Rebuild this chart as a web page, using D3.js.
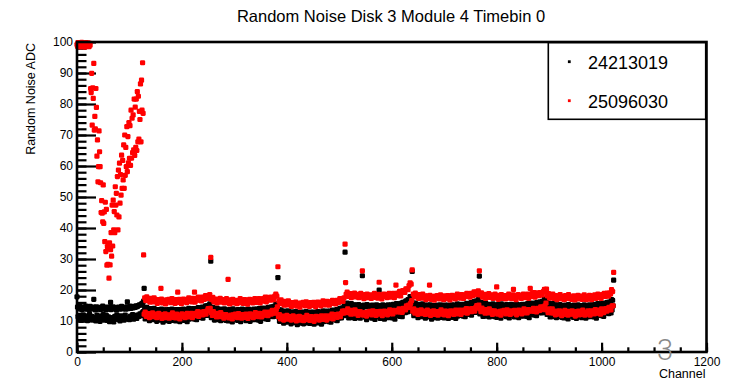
<!DOCTYPE html>
<html>
<head>
<meta charset="utf-8">
<script src="https://cdn.jsdelivr.net/npm/d3@7"></script>
<style>
  body { margin: 0; background: #fff; }
  text { font-family: "Liberation Sans", Arial, Helvetica, sans-serif; }
</style>
</head>
<body>
<svg id="chart" width="749" height="381"></svg>
<script>
const title = "Random Noise Disk 3 Module 4 Timebin 0";
const seriesNames = ["24213019", "25096030"];
const seriesColors = ["#000000", "#ff0000"];
const xTicks = [0, 200, 400, 600, 800, 1000, 1200];
const yTicks = [0, 10, 20, 30, 40, 50, 60, 70, 80, 90, 100];

// noise per channel, even and odd channels kept apart (channel = 2*i or 2*i+1)
// one row = 16 values, four rows = one chip of 128 channels
const blackEven = [
  17.8,11.4,10.6,11.8,10.2,11.1,12.0,10.5,10.9,11.7,10.1,11.3,12.2,10.7,11.5,10.4,
  17.0,11.2,10.0,11.9,10.8,11.4,9.9,11.6,10.6,12.1,10.3,11.0,11.8,10.2,11.3,9.8,
  16.0,10.4,11.1,9.7,11.5,10.8,12.0,10.5,11.2,10.0,11.7,10.9,11.4,10.3,11.9,10.7,
  16.2,11.0,10.4,11.6,10.9,12.1,10.6,11.3,11.8,10.8,11.9,11.5,12.3,11.7,12.6,13.0,
  20.5,10.7,11.6,12.3,10.8,10.1,11.8,11.2,10.4,11.9,10.8,11.3,9.9,10.9,11.4,10.3,
  11.6,10.5,9.6,11.1,11.9,10.1,11.0,10.7,9.9,11.4,11.2,10.2,11.8,10.6,10.0,10.9,
  10.3,11.5,9.8,11.1,10.7,11.7,10.2,11.4,11.1,9.8,11.6,10.6,11.0,11.9,10.8,12.3,
  10.6,11.3,10.4,11.7,12.1,11.2,12.5,11.1,10.9,12.1,11.8,12.6,11.8,13.4,13.0,12.5,
  11.1,12.3,11.2,10.3,11.6,12.3,10.4,11.0,11.6,10.1,11.2,10.5,11.9,10.9,10.2,11.3,
  10.0,11.1,12.0,10.5,9.7,11.5,10.6,10.9,11.7,10.2,10.4,11.4,9.8,11.0,11.6,10.7,
  11.3,10.1,11.8,10.5,10.9,9.9,11.6,10.4,10.7,12.0,10.4,11.4,11.0,10.3,11.4,9.9,
  11.8,11.1,12.2,10.9,10.7,11.6,10.5,12.1,12.5,11.5,12.0,11.4,12.6,11.6,12.6,13.9,
  11.3,9.9,10.8,11.5,10.0,9.3,11.0,10.4,9.6,11.1,10.0,10.5,9.1,10.1,10.6,9.5,
  10.8,9.7,8.8,10.3,11.1,9.3,10.2,9.9,9.1,10.6,10.4,9.4,11.0,9.8,9.2,10.1,
  9.5,10.7,9.0,10.3,9.9,10.9,9.4,10.6,10.3,9.0,10.8,9.8,10.2,11.1,10.0,11.5,
  9.8,10.5,9.6,10.9,11.3,10.4,11.7,10.3,10.1,11.3,11.0,11.8,11.0,12.6,12.2,11.7,
  11.8,13.0,11.9,11.0,12.3,13.0,11.1,11.7,12.3,10.8,11.9,11.2,12.6,11.6,10.9,12.0,
  24.6,11.8,12.7,11.2,10.4,12.2,11.3,11.6,12.4,10.9,11.1,12.1,10.5,11.7,12.3,11.4,
  20.0,10.8,12.5,11.2,11.6,10.6,12.3,11.1,11.4,12.7,11.1,12.1,11.7,11.0,12.1,10.6,
  12.5,11.8,12.9,11.7,11.5,12.5,11.4,13.1,13.6,12.7,13.3,12.9,14.2,13.3,14.4,15.7,
  13.1,11.7,12.6,13.3,11.8,11.1,12.8,12.2,11.4,12.9,11.8,12.3,10.9,11.9,12.4,11.3,
  12.6,11.5,10.6,12.1,12.9,11.1,12.0,11.7,10.9,12.4,12.2,11.2,12.8,11.6,11.0,11.9,
  11.3,12.5,10.8,12.1,11.7,12.7,11.2,12.4,12.1,10.8,12.6,11.6,12.0,12.9,11.8,13.3,
  11.6,12.3,11.4,12.7,13.1,12.2,13.5,12.1,11.9,13.1,12.8,13.6,12.8,14.4,14.0,13.5,
  12.3,13.5,12.4,11.5,12.8,13.5,11.6,12.2,12.8,11.3,12.4,11.7,13.1,12.1,11.4,12.5,
  11.2,12.3,13.2,11.7,10.9,12.7,11.8,12.1,12.9,11.4,11.6,12.6,11.0,12.2,12.8,11.9,
  12.5,11.3,13.0,11.7,12.1,11.1,12.8,11.6,11.9,13.2,11.6,12.6,12.2,11.5,12.6,11.1,
  13.0,12.3,13.4,12.1,11.9,12.8,11.7,13.3,13.7,12.7,13.2,12.6,13.8,12.8,13.8,15.1,
  12.1,13.3,12.2,11.3,12.6,13.3,11.4,12.0,12.6,11.1,12.2,11.5,12.9,11.9,11.2,12.3,
  11.0,12.1,13.0,11.5,10.7,12.5,11.6,11.9,12.7,11.2,11.4,12.4,10.8,12.0,12.6,11.7,
  12.3,11.1,12.8,11.5,11.9,10.9,12.6,11.4,11.7,13.0,11.4,12.4,12.0,11.3,12.4,10.9,
  12.8,12.1,13.2,11.9,11.7,12.6,11.5,13.1,13.5,12.5,13.0,12.4,13.6,12.6,13.6,14.9
];
const blackOdd = [
  14.5,13.9,14.7,14.1,13.7,14.6,14.3,13.8,14.8,14.0,14.4,13.6,14.7,14.2,13.9,14.5,
  14.0,13.6,14.6,14.1,13.8,14.4,13.7,14.3,14.8,13.9,14.2,13.6,14.5,14.0,13.8,14.4,
  13.7,14.1,14.6,13.9,14.3,13.6,14.0,14.5,13.8,14.2,14.7,13.9,14.1,14.4,13.8,14.6,
  14.0,14.3,14.8,14.1,14.5,14.2,14.7,14.4,14.9,14.6,15.0,15.2,15.1,15.5,15.8,16.4,
  14.4,13.8,14.4,13.8,13.8,13.4,14.0,13.7,13.4,14.1,13.5,13.7,13.1,13.6,13.7,13.2,
  13.8,13.1,13.5,13.6,12.9,13.6,13.3,13.7,13.4,13.1,13.8,13.3,13.5,13.0,13.7,13.2,
  13.2,13.7,13.5,13.0,13.6,13.8,13.4,13.7,13.2,13.5,14.1,13.4,13.7,13.4,14.0,13.8,
  13.4,14.0,13.8,14.3,13.8,14.1,13.8,14.5,14.3,14.2,14.9,14.5,15.0,14.7,15.5,29.3,
  14.0,14.4,13.6,14.0,13.8,14.2,13.4,13.7,13.8,13.1,13.7,13.3,13.9,13.4,13.1,13.6,
  13.0,13.7,13.3,13.2,13.9,13.2,13.5,13.1,13.4,13.7,13.0,13.5,13.3,13.8,13.1,13.6,
  13.6,13.1,13.3,13.8,13.2,13.0,13.6,13.3,13.8,13.5,13.1,13.8,13.5,14.0,13.4,13.6,
  14.2,13.6,14.0,13.5,14.2,13.9,14.4,13.9,14.3,14.6,14.1,14.7,14.6,15.5,15.3,24.0,
  13.6,13.0,13.6,13.0,13.0,12.6,13.2,12.9,12.6,13.3,12.7,12.9,12.3,12.8,12.9,12.4,
  13.0,12.3,12.7,12.8,12.1,12.8,12.5,12.9,12.6,12.3,13.0,12.5,12.7,12.2,12.9,12.4,
  12.4,12.9,12.7,12.2,12.8,13.0,12.6,12.9,12.4,12.7,13.3,12.6,12.9,12.6,13.2,13.0,
  12.6,13.2,13.0,13.5,13.0,13.3,13.0,13.7,13.5,13.4,14.1,13.7,14.2,13.9,14.7,32.2,
  15.4,15.8,15.0,15.4,15.2,15.6,14.8,15.1,15.2,14.5,15.1,14.7,15.3,14.8,14.5,15.0,
  14.4,15.1,14.7,14.6,15.3,14.6,14.9,14.5,14.8,15.1,14.4,14.9,14.7,15.2,14.5,15.0,
  15.0,14.5,14.7,15.2,14.6,14.4,15.0,14.7,15.2,14.9,14.5,15.2,14.9,15.4,14.8,15.0,
  15.6,15.0,15.4,15.0,15.7,15.5,16.0,15.6,16.1,16.5,16.1,16.9,16.9,17.9,17.8,26.0,
  15.8,15.2,15.8,15.2,15.2,14.8,15.4,15.1,14.8,15.5,14.9,15.1,14.5,15.0,15.1,14.6,
  15.2,14.5,14.9,15.0,14.3,15.0,14.7,15.1,14.8,14.5,15.2,14.7,14.9,14.4,15.1,14.6,
  14.6,15.1,14.9,14.4,15.0,15.2,14.8,15.1,14.6,14.9,15.5,14.8,15.1,14.8,15.4,15.2,
  14.8,15.4,15.2,15.7,15.2,15.5,15.2,15.9,15.7,15.6,16.3,15.9,16.4,16.1,16.9,24.5,
  15.6,16.0,15.2,15.6,15.4,15.8,15.0,15.3,15.4,14.7,15.3,14.9,15.5,15.0,14.7,15.2,
  14.6,15.3,14.9,14.8,15.5,14.8,15.1,14.7,15.0,15.3,14.6,15.1,14.9,15.4,14.7,15.2,
  15.2,14.7,14.9,15.4,14.8,14.6,15.2,14.9,15.4,15.1,14.7,15.4,15.1,15.6,15.0,15.2,
  15.8,15.2,15.6,15.1,15.8,15.5,16.0,15.5,15.9,16.2,15.7,16.3,16.2,17.1,16.9,17.1,
  15.4,15.8,15.0,15.4,15.2,15.6,14.8,15.1,15.2,14.5,15.1,14.7,15.3,14.8,14.5,15.0,
  14.4,15.1,14.7,14.6,15.3,14.6,14.9,14.5,14.8,15.1,14.4,14.9,14.7,15.2,14.5,15.0,
  15.0,14.5,14.7,15.2,14.6,14.4,15.0,14.7,15.2,14.9,14.5,15.2,14.9,15.4,14.8,15.0,
  15.6,15.0,15.4,14.9,15.6,15.3,15.8,15.3,15.7,16.0,15.5,16.1,16.0,16.9,16.7,23.2
];
const redEven = [
  99.2,99.8,99.5,99.7,98.7,98.5,99.6,99.4,99.0,98.6,98.9,99.2,99.6,85.0,89.9,85.2,
  93.1,76.0,85.0,63.2,54.9,71.3,59.8,45.0,44.8,53.9,45.2,48.3,46.0,34.0,33.5,35.2,
  33.0,30.9,34.2,39.4,38.5,47.4,44.2,39.4,43.6,48.0,50.6,52.8,55.5,52.8,57.0,59.8,
  58.2,61.0,62.5,60.2,62.5,64.3,65.2,63.4,66.0,65.0,67.8,68.7,75.0,67.8,78.0,77.0,
  12.2,12.9,11.5,12.2,12.4,11.1,12.2,11.8,12.6,11.4,11.8,12.2,11.1,11.9,12.5,11.3,
  20.5,10.8,12.1,11.4,12.3,11.1,11.6,12.0,10.9,11.9,11.5,12.6,11.2,11.8,11.0,12.2,
  19.3,11.3,10.7,11.8,12.3,11.5,12.1,11.1,11.8,12.5,11.3,11.8,11.5,12.5,11.1,12.2,
  19.3,12.5,11.7,13.0,11.5,12.4,12.9,12.2,12.0,13.0,12.7,12.2,13.3,14.0,13.3,14.1,
  12.7,11.8,13.0,11.9,12.1,11.3,12.5,11.9,11.4,12.7,11.7,12.1,10.9,11.9,12.1,11.3,
  23.4,11.0,11.7,11.9,10.7,12.0,11.4,12.2,11.6,11.1,12.4,11.5,11.8,10.9,12.1,11.3,
  11.2,12.2,11.7,10.8,11.9,12.3,11.5,12.1,11.1,11.7,12.7,11.5,12.0,11.4,12.5,12.0,
  11.3,12.4,12.0,12.9,11.9,12.4,11.7,12.9,12.5,12.2,13.4,12.6,13.3,12.5,13.7,14.6,
  11.4,12.1,10.7,11.4,11.6,10.3,11.4,11.0,11.8,10.6,11.0,11.4,10.3,11.1,11.7,10.5,
  10.9,10.0,11.3,10.6,11.5,10.3,10.8,11.2,10.1,11.1,10.7,11.8,10.4,11.0,10.2,11.4,
  11.3,10.5,9.9,11.0,11.5,10.7,11.3,10.3,11.0,11.7,10.5,11.0,10.7,11.7,10.3,11.4,
  11.1,11.7,10.9,12.2,10.7,11.6,12.1,11.4,11.2,12.2,11.9,11.4,12.5,13.2,12.5,13.3,
  22.4,12.7,13.9,12.8,13.0,12.2,13.4,12.8,12.3,13.6,12.6,13.0,11.8,12.8,13.0,12.2,
  26.2,11.9,12.6,12.8,11.6,12.9,12.3,13.1,12.5,12.0,13.3,12.4,12.7,11.8,13.0,12.2,
  22.5,13.1,12.6,11.7,12.8,13.2,12.4,13.0,12.0,12.6,13.6,12.4,12.9,12.3,13.4,12.9,
  21.6,13.3,12.9,13.9,12.9,13.5,12.8,14.1,13.8,13.6,14.9,14.3,15.1,14.4,15.7,16.6,
  13.2,13.9,12.5,13.2,13.4,12.1,13.2,12.8,13.6,12.4,12.8,13.2,12.1,12.9,13.5,12.3,
  21.6,11.8,13.1,12.4,13.3,12.1,12.6,13.0,11.9,12.9,12.5,13.6,12.2,12.8,12.0,13.2,
  13.1,12.3,11.7,12.8,13.3,12.5,13.1,12.1,12.8,13.5,12.3,12.8,12.5,13.5,12.1,13.2,
  12.9,13.5,12.7,14.0,12.5,13.4,13.9,13.2,13.0,14.0,13.7,13.2,14.3,15.0,14.3,15.1,
  13.9,13.0,14.2,13.1,13.3,12.5,13.7,13.1,12.6,13.9,12.9,13.3,12.1,13.1,13.3,12.5,
  21.0,12.2,12.9,13.1,11.9,13.2,12.6,13.4,12.8,12.3,13.6,12.7,13.0,12.1,13.3,12.5,
  20.2,13.4,12.9,12.0,13.1,13.5,12.7,13.3,12.3,12.9,13.9,12.7,13.2,12.6,13.7,13.2,
  20.5,13.6,13.2,14.1,13.1,13.6,12.9,14.1,13.7,13.4,14.6,13.8,14.5,13.7,14.9,15.8,
  13.6,12.7,13.9,13.0,12.6,13.9,12.6,13.0,12.0,13.2,12.8,12.2,13.3,12.5,11.7,12.9,
  12.5,13.4,12.1,12.8,11.9,13.1,12.6,12.2,13.3,12.3,12.7,11.6,13.0,12.4,13.2,12.0,
  12.1,12.9,13.5,12.4,11.9,12.7,12.3,13.3,12.6,11.9,13.3,12.8,13.1,12.3,13.7,12.6,
  13.1,12.5,13.5,12.2,13.9,13.0,12.7,13.6,14.0,13.2,13.7,14.4,13.7,13.6,14.9,14.9
];
const redOdd = [
  98.6,98.9,98.4,99.1,99.9,99.3,98.8,98.3,99.8,99.5,99.7,98.5,99.0,83.7,73.2,81.8,
  71.6,72.0,78.9,68.4,59.8,64.6,54.6,48.8,42.0,41.5,35.6,32.4,28.0,28.3,23.8,28.1,
  38.5,47.4,49.0,45.3,53.3,51.2,56.6,58.7,60.9,57.2,63.5,61.8,66.8,70.0,66.0,72.7,
  69.5,74.0,73.0,78.0,75.4,76.5,81.6,79.0,81.6,84.0,82.5,77.6,86.5,87.7,93.3,31.3,
  17.5,16.6,17.8,16.7,16.9,16.1,17.3,16.7,16.2,17.5,16.5,16.9,15.7,16.7,16.9,16.1,
  17.1,15.8,16.5,16.7,15.5,16.8,16.2,17.0,16.4,15.9,17.2,16.3,16.6,15.7,16.9,16.1,
  16.0,17.0,16.5,15.6,16.7,17.1,16.3,16.9,15.9,16.5,17.5,16.3,16.8,16.2,17.3,16.8,
  16.1,17.2,16.8,17.7,16.7,17.2,16.5,17.7,17.3,17.0,18.2,17.4,18.1,17.3,18.5,30.5,
  16.9,17.6,16.2,16.9,17.1,15.8,16.9,16.5,17.3,16.1,16.5,16.9,15.8,16.6,17.2,16.0,
  16.4,15.5,16.8,16.1,17.0,15.8,16.3,16.7,15.6,16.6,16.2,17.2,15.9,16.5,15.7,16.9,
  16.8,16.0,15.4,16.5,17.0,16.2,16.8,15.8,16.5,17.2,16.0,16.5,16.2,17.2,15.8,16.9,
  16.6,17.2,16.4,17.7,16.2,17.1,17.6,16.9,16.7,17.7,17.4,16.9,18.0,18.7,18.0,27.5,
  16.5,15.6,16.8,15.7,15.9,15.1,16.3,15.7,15.2,16.5,15.5,15.9,14.7,15.7,15.9,15.1,
  16.1,14.8,15.5,15.7,14.5,15.8,15.2,16.0,15.4,14.9,16.2,15.3,15.6,14.7,15.9,15.1,
  15.0,16.0,15.5,14.6,15.7,16.1,15.3,15.9,14.9,15.5,16.5,15.3,15.8,15.2,16.3,15.8,
  15.1,16.2,15.8,16.7,15.7,16.2,15.5,16.7,16.3,16.0,17.2,16.4,17.1,16.3,17.5,34.8,
  18.6,19.3,17.9,18.6,18.8,17.5,18.6,18.2,19.0,17.8,18.2,18.6,17.5,18.3,18.9,17.7,
  18.1,17.2,18.5,17.8,18.7,17.5,18.0,18.4,17.3,18.3,17.9,18.9,17.6,18.2,17.4,18.6,
  18.5,17.7,17.1,18.2,18.7,17.9,18.5,17.5,18.2,18.9,17.7,18.2,17.9,18.9,17.5,18.6,
  18.3,19.0,18.2,19.6,18.1,19.2,19.8,19.2,19.2,20.4,20.3,20.1,21.4,22.3,21.9,26.5,
  18.7,17.8,19.0,17.9,18.1,17.3,18.5,17.9,17.4,18.7,17.7,18.1,16.9,17.9,18.1,17.3,
  18.3,17.0,17.7,17.9,16.7,18.0,17.4,18.2,17.6,17.1,18.4,17.5,17.8,16.9,18.1,17.3,
  17.2,18.2,17.7,16.8,17.9,18.3,17.5,18.1,17.1,17.7,18.7,17.5,18.0,17.4,18.5,18.0,
  17.3,18.4,18.0,18.9,17.9,18.4,17.7,18.9,18.5,18.2,19.4,18.6,19.3,18.5,19.7,26.2,
  18.4,19.1,17.7,18.4,18.6,17.3,18.4,18.0,18.8,17.6,18.0,18.4,17.3,18.1,18.7,17.5,
  17.9,17.0,18.3,17.6,18.5,17.3,17.8,18.2,17.1,18.1,17.7,18.7,17.4,18.0,17.2,18.4,
  18.3,17.5,16.9,18.0,18.5,17.7,18.3,17.3,18.0,18.7,17.5,18.0,17.7,18.7,17.3,18.4,
  18.1,18.8,17.9,19.2,17.7,18.6,19.1,18.4,18.2,19.2,18.9,18.4,19.5,20.2,19.5,20.3,
  18.1,18.8,17.4,18.3,17.9,18.7,17.3,17.9,18.2,16.9,17.9,17.3,18.5,17.5,17.1,17.9,
  16.9,18.2,17.5,17.3,18.5,17.2,17.8,17.0,17.6,18.1,16.8,17.7,17.4,18.3,17.1,17.9,
  18.0,17.0,17.5,18.4,17.3,16.9,17.9,17.3,18.3,17.7,16.9,18.1,17.6,18.4,17.3,17.8,
  18.7,17.6,18.2,17.3,18.5,18.0,18.9,17.9,18.5,19.0,18.0,19.0,18.7,20.1,19.5,25.7
];

[blackEven, blackOdd, redEven, redOdd].forEach((a, i) => {
  if (a.length !== 512) throw new Error('array ' + i + ' has ' + a.length + ' values');
});

// put even and odd channels back together
function channels(even, odd) {
  const pts = [];
  even.forEach((v, i) => pts.push({ ch: 2 * i, v: v }));
  odd.forEach((v, i) => pts.push({ ch: 2 * i + 1, v: v }));
  return pts.sort((a, b) => a.ch - b.ch);
}
const series = [channels(blackEven, blackOdd), channels(redEven, redOdd)];

const frame = { left: 77, right: 706.5, top: 42, bottom: 352 };
const svg = d3.select('#chart');
svg.append('rect').attr('width', 749).attr('height', 381).attr('fill', '#fff');

const x = d3.scaleLinear().domain([0, 1200]).range([frame.left, frame.right]);
const y = d3.scaleLinear().domain([0, 100]).range([frame.bottom, frame.top]);

// ROOT style ticks: inside the frame, minor ones half as long
const xMinor = svg.append('g')
  .attr('transform', `translate(0,${frame.bottom})`)
  .call(d3.axisBottom(x).tickValues(d3.range(0, 1201, 50)).tickSize(-4.7).tickFormat(''));
const xMajor = svg.append('g')
  .attr('transform', `translate(0,${frame.bottom})`)
  .call(d3.axisBottom(x).tickValues(xTicks).tickSize(-9.3).tickPadding(5).tickFormat(d3.format('d')));
const yMinor = svg.append('g')
  .attr('transform', `translate(${frame.left},0)`)
  .call(d3.axisLeft(y).tickValues(d3.range(0, 101, 2)).tickSize(-9.5).tickFormat(''));
const yMajor = svg.append('g')
  .attr('transform', `translate(${frame.left},0)`)
  .call(d3.axisLeft(y).tickValues(yTicks).tickSize(-19).tickPadding(4).tickFormat(d3.format('d')));

[xMinor, xMajor, yMinor, yMajor].forEach(g => {
  g.select('.domain').remove();
  g.selectAll('line').attr('stroke', '#000').attr('stroke-width', 2.2);
  g.selectAll('text').attr('font-size', 12).attr('fill', '#000')
    .style('font-family', '"Liberation Sans", Arial, sans-serif');
});

// square markers, black first then red on top
const ms = 5.2;
series.forEach((pts, i) => {
  svg.append('g').selectAll('rect')
    .data(pts)
    .enter()
    .append('rect')
    .attr('x', d => x(d.ch) - ms / 2)
    .attr('y', d => y(d.v) - ms / 2)
    .attr('width', ms)
    .attr('height', ms)
    .attr('rx', 1.3)
    .attr('fill', seriesColors[i]);
});

svg.append('rect')
  .attr('x', frame.left).attr('y', frame.top)
  .attr('width', frame.right - frame.left).attr('height', frame.bottom - frame.top)
  .attr('fill', 'none').attr('stroke', '#000').attr('stroke-width', 2.6);

// legend
const legend = svg.append('g');
legend.append('rect')
  .attr('x', 548.3).attr('y', 42.7).attr('width', 157.4).attr('height', 76.6)
  .attr('fill', '#fff').attr('stroke', '#000').attr('stroke-width', 1.6);
seriesNames.forEach((name, i) => {
  const cy = 61.7 + i * 39;
  legend.append('rect')
    .attr('x', 567.9).attr('y', cy - 1.4).attr('width', 2.8).attr('height', 2.8)
    .attr('fill', seriesColors[i]);
  legend.append('text')
    .attr('x', 588).attr('y', cy + 7.6)
    .attr('font-size', 18)
    .text(name);
});

svg.append('text')
  .attr('x', 391).attr('y', 22)
  .attr('text-anchor', 'middle')
  .attr('font-size', 16.5)
  .text(title);

svg.append('text')
  .attr('transform', 'translate(35,43) rotate(-90)')
  .attr('text-anchor', 'end')
  .attr('font-size', 12.5)
  .text('Random Noise ADC');

svg.append('text')
  .attr('x', 705.5).attr('y', 378)
  .attr('text-anchor', 'end')
  .attr('font-size', 12.5)
  .text('Channel');

// the grey page number that sits on the axis
svg.append('text')
  .attr('x', 665).attr('y', 360)
  .attr('text-anchor', 'middle')
  .attr('font-size', 29)
  .attr('font-weight', 300)
  .attr('fill', '#8a8a8a')
  .style('font-family', 'Roboto, "Liberation Sans", sans-serif')
  .text('3');
</script>
</body>
</html>
